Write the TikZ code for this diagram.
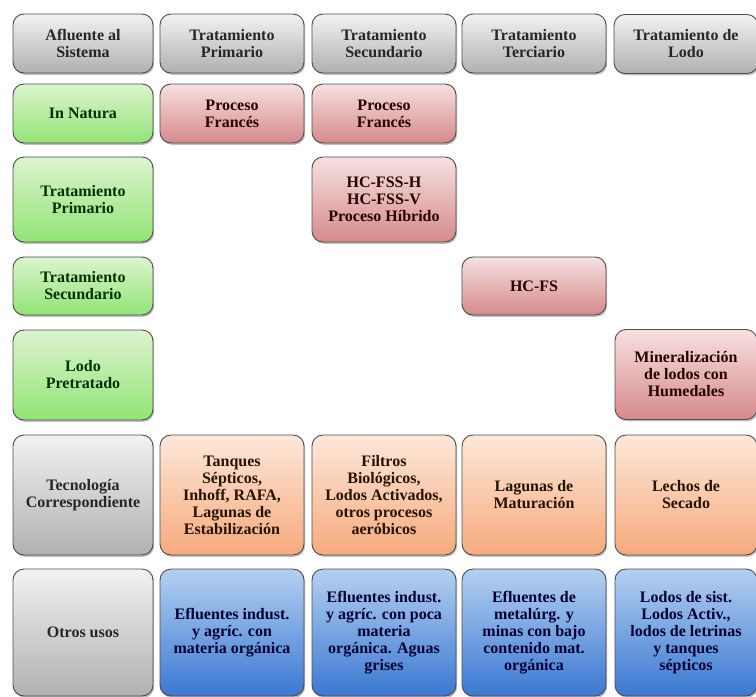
\documentclass[tikz,border=0pt]{standalone}
\usepackage{fontspec}
\setmainfont{Liberation Serif}
\usepackage{xcolor}
\usepackage{tikz}
\usetikzlibrary{shadows}

\definecolor{greytop}{HTML}{F2F2F2}
\definecolor{greybot}{HTML}{B0B0B0}
\definecolor{greentop}{HTML}{DCF4CE}
\definecolor{greenbot}{HTML}{92E476}
\definecolor{redtop}{HTML}{F6E0E0}
\definecolor{redbot}{HTML}{D68A8A}
\definecolor{orangetop}{HTML}{FDE8DA}
\definecolor{orangebot}{HTML}{F6AA7C}
\definecolor{bluetop}{HTML}{B4D0F0}
\definecolor{bluebot}{HTML}{3A78D2}

\begin{document}
\begin{tikzpicture}[x=1pt, y=-1pt]
			\tikzstyle{cell} = [draw=black!70, line width=0.9pt, rounded corners=11pt, align=center, inner sep=1pt,
			  font=\bfseries\fontsize{16}{17}\selectfont, minimum width=144pt,
			  drop shadow={opacity=0.5, shadow xshift=1.2pt, shadow yshift=-1.8pt}]
			\tikzstyle{greycell} = [cell, top color=greytop, bottom color=greybot, text=black!85]
			\tikzstyle{greencell} = [cell, top color=greentop, bottom color=greenbot, text=green!20!black]
			\tikzstyle{redcell} = [cell, top color=redtop, bottom color=redbot, text=red!15!black]
			\tikzstyle{orangecell} = [cell, top color=orangetop, bottom color=orangebot, text=orange!15!black]
			\tikzstyle{bluecell} = [cell, top color=bluetop, bottom color=bluebot, text=blue!20!black]
			
			\useasboundingbox (0,0) rectangle (756,697);
			
			\node[greycell, minimum width=140pt, minimum height=59pt](afluente) at (83,43.5) {Afluente al\\Sistema};
			\node[greycell, minimum height=59pt](primario) at (232,43.5) {Tratamiento\\Primario};
			\node[greycell, minimum height=59pt](secundario) at (384,43.5) {Tratamiento\\Secundario};
			\node[greycell, minimum height=59pt](terciario) at (534,43.5) {Tratamiento\\Terciario};
			\node[greycell, minimum height=59pt](lodo) at (686,44) {Tratamiento de\\Lodo};
			
			\node[greencell, minimum width=140pt, minimum height=59pt](natura) at (83,113.5) {In Natura};
			\node[redcell, minimum height=59pt](frances1) at (232,113.5) {Proceso\\Francés};
			\node[redcell, minimum height=59pt](frances2) at (384,113.5) {Proceso\\Francés};
			
			\node[greencell, minimum width=140pt, minimum height=85pt](inprimario) at (83,199.5) {Tratamiento\\Primario};
			\node[redcell, minimum height=85pt](hcfss) at (384,199.5) {HC-FSS-H\\HC-FSS-V\\Proceso Híbrido};
			
			\node[greencell, minimum width=140pt, minimum height=58pt](insecundario) at (83,286) {Tratamiento\\Secundario};
			\node[redcell, minimum height=58pt](hcfs) at (534,286) {HC-FS};
			
			\node[greencell, minimum width=140pt, minimum height=90pt](pretratado) at (83,375) {Lodo\\Pretratado};
			\node[redcell, minimum width=142pt, minimum height=90pt](mineral) at (686,374.5) {Mineralización\\de lodos con\\Humedales};
			
			\node[greycell, minimum width=140pt, minimum height=120pt](tecnologia) at (83,495) {Tecnología\\Correspondiente};
			\node[orangecell, minimum height=120pt](tanques) at (232,495) {Tanques\\Sépticos,\\Inhoff, RAFA,\\Lagunas de\\Estabilización};
			\node[orangecell, minimum height=120pt](filtros) at (384,495) {Filtros\\Biológicos,\\Lodos Activados,\\otros procesos\\aeróbicos};
			\node[orangecell, minimum height=120pt](lagunas) at (534,495) {Lagunas de\\Maturación};
			\node[orangecell, minimum width=142pt, minimum height=120pt](lechos) at (686,495) {Lechos de\\Secado};
			
			\node[greycell, minimum width=140pt, minimum height=127pt](otros) at (83,632.5) {Otros usos};
			\node[bluecell, minimum height=127pt](efluentes1) at (232,632.5) {Efluentes indust.\\y agríc. con\\materia orgánica};
			\node[bluecell, minimum height=127pt](efluentes2) at (384,632.5) {Efluentes indust.\\y agríc. con poca\\materia\\orgánica. Aguas\\grises};
			\node[bluecell, minimum height=127pt](efluentes3) at (534,632.5) {Efluentes de\\metalúrg. y\\minas con bajo\\contenido mat.\\orgánica};
			\node[bluecell, minimum width=142pt, minimum height=127pt](lodos) at (686,632.5) {Lodos de sist.\\Lodos Activ.,\\lodos de letrinas\\y tanques\\sépticos};
			
\end{tikzpicture}
\end{document}
